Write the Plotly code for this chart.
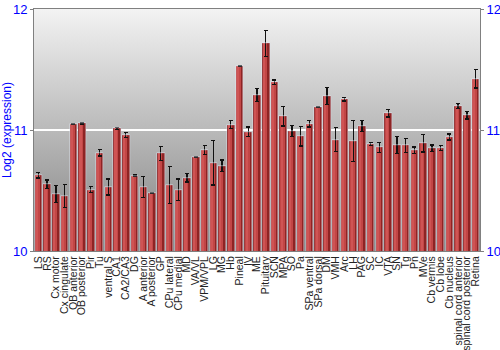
import base64
import plotly.graph_objects as go

categories = ["LS", "RS", "Cx motor", "Cx cingulate", "OB anterior", "OB posterior", "Pir", "Tu",
              "ventral S", "CA1", "CA2/CA3", "DG", "A anterior", "A posterior", "GP", "CPu lateral",
              "CPu medial", "MD", "VA/VL", "VPM/VPL", "LG", "MG", "Hb", "Pineal", "IV", "ME",
              "Pituitary", "SCN", "MPA", "SO", "Pa", "SPa ventral", "SPa dorsal", "DM", "VMH", "Arc",
              "LH", "PAG", "SC", "IC", "VTA", "SN", "Tg", "Pn", "MVe", "Cb vermis", "Cb lobe",
              "Cb nucleus", "spinal cord anterior", "spinal cord posterior", "Retina"]

values = [10.627, 10.552, 10.470, 10.453, 11.050, 11.055, 10.508, 10.812,
          10.530, 11.014, 10.959, 10.622, 10.528, 10.478, 10.807, 10.544,
          10.506, 10.605, 10.776, 10.837, 10.729, 10.704, 11.044, 11.530, 10.986, 11.287,
          11.715, 11.395, 11.113, 10.992, 10.950, 11.052, 11.190, 11.282, 10.920, 11.254,
          10.909, 11.033, 10.884, 10.856, 11.138, 10.876, 10.873, 10.834, 10.890, 10.848, 10.851,
          10.942, 11.199, 11.122, 11.423]

errors = [0.023, 0.035, 0.069, 0.095, 0.005, 0.005, 0.024, 0.026,
          0.066, 0.008, 0.022, 0.005, 0.086, 0.005, 0.057, 0.153,
          0.090, 0.035, 0.005, 0.037, 0.184, 0.048, 0.033, 0.005, 0.039, 0.054,
          0.108, 0.018, 0.080, 0.048, 0.081, 0.026, 0.005, 0.069, 0.100, 0.014,
          0.170, 0.048, 0.014, 0.040, 0.030, 0.069, 0.057, 0.026, 0.072, 0.028, 0.020,
          0.025, 0.020, 0.030, 0.076]

y_range = [10, 12]
y_ticks = [10, 11, 12]
blue = "#0000ff"

fig = go.Figure()

fig.add_trace(go.Bar(
    x=categories, y=values, width=0.86,
    marker=dict(color="#8e2424", line=dict(width=0)),
    hoverinfo="skip", showlegend=False,
))
fig.add_trace(go.Bar(
    x=categories, y=values, width=0.52, offset=-0.37,
    marker=dict(color="#c24646", line=dict(width=0)),
    hoverinfo="skip", showlegend=False,
))
fig.add_trace(go.Bar(
    x=categories, y=values, width=0.24, offset=-0.3,
    marker=dict(color="#cf5454", line=dict(width=0)),
    hoverinfo="skip", showlegend=False,
))
fig.add_trace(go.Bar(
    x=categories, y=values, width=0.86,
    marker=dict(color="rgba(0,0,0,0)", line=dict(width=0)),
    error_y=dict(type="data", array=errors, color="#111111", thickness=1.3, width=2),
    showlegend=False,
))
fig.add_trace(go.Bar(x=categories, y=values, yaxis="y2", width=0.86,
                     marker=dict(color="rgba(0,0,0,0)"), hoverinfo="skip", showlegend=False))

svg = ('<svg xmlns="http://www.w3.org/2000/svg" width="100" height="100" preserveAspectRatio="none">'
       '<defs><linearGradient id="g" x1="0" y1="0" x2="0" y2="1">'
       '<stop offset="0" stop-color="#f3f3f3"/><stop offset="1" stop-color="#808080"/>'
       '</linearGradient></defs><rect width="100" height="100" fill="url(#g)"/></svg>')
src = "data:image/svg+xml;base64," + base64.b64encode(svg.encode()).decode()

fig.update_layout(
    width=500, height=350,
    margin=dict(l=34, r=20, t=9, b=99),
    barmode="overlay",
    bargap=0,
    paper_bgcolor="white",
    plot_bgcolor="rgba(0,0,0,0)",
    images=[dict(source=src, xref="paper", yref="paper", x=0, y=1, sizex=1, sizey=1,
                 sizing="stretch", xanchor="left", yanchor="top", layer="below")],
    font=dict(family="Liberation Sans, Arial, sans-serif"),
    xaxis=dict(
        tickmode="array", tickvals=categories, ticktext=categories,
        range=[-0.5, len(categories) - 0.5],
        tickangle=-90, tickfont=dict(size=10.5, color="#222222"),
        showline=True, linecolor="#808080", mirror=True, ticks="",
        showgrid=False, automargin=False,
    ),
    yaxis=dict(
        range=y_range, tickvals=y_ticks, tickfont=dict(size=13, color=blue),
        title=dict(text="Log2 (expression)", font=dict(size=12, color=blue), standoff=4),
        showline=True, linecolor="#808080", ticks="outside", ticklen=3, tickcolor="#808080",
        showgrid=True, gridcolor="white", gridwidth=1.5, zeroline=False, automargin=False,
    ),
    yaxis2=dict(
        range=y_range, tickvals=y_ticks, tickfont=dict(size=13, color=blue),
        overlaying="y", side="right",
        showline=True, linecolor="#808080", ticks="outside", ticklen=3, tickcolor="#808080",
        showgrid=False, zeroline=False, automargin=False,
    ),
)

fig.write_html("out.html")
